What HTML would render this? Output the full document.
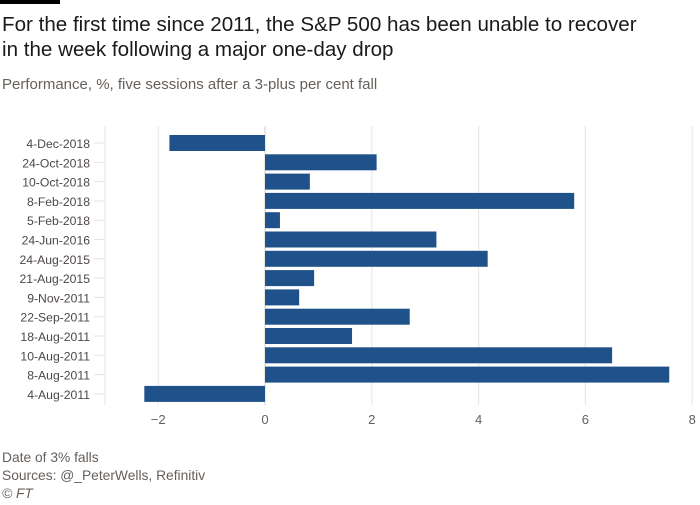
<!DOCTYPE html>
<html><head><meta charset="utf-8"><style>
body{margin:0;background:#fff;font-family:"Liberation Sans",sans-serif;}
</style></head><body>
<svg width="700" height="500">
<rect x="0" y="0" width="60" height="4" fill="#000"/>
<text x="2" y="31" font-size="20.6" fill="#1a1a1a">For the first time since 2011, the S&amp;P 500 has been unable to recover</text>
<text x="2" y="56" font-size="20.6" fill="#1a1a1a">in the week following a major one-day drop</text>
<text x="2" y="89" font-size="15" fill="#66605c">Performance, %, five sessions after a 3-plus per cent fall</text>
<g id="plot"></g>
<text x="2" y="462" font-size="13.8" fill="#66605c">Date of 3% falls</text>
<text x="2" y="480" font-size="13.8" fill="#66605c">Sources: @_PeterWells, Refinitiv</text>
<text x="2" y="498" font-size="13.8" font-style="italic" fill="#66605c">© FT</text>
</svg>
<script>
const categories=["4-Dec-2018","24-Oct-2018","10-Oct-2018","8-Feb-2018","5-Feb-2018","24-Jun-2016","24-Aug-2015","21-Aug-2015","9-Nov-2011","22-Sep-2011","18-Aug-2011","10-Aug-2011","8-Aug-2011","4-Aug-2011"];
const values=[-1.79,2.09,0.84,5.79,0.28,3.21,4.17,0.92,0.64,2.71,1.63,6.5,7.57,-2.26];
const ticks=[-2,0,2,4,6,8];
const NS="http://www.w3.org/2000/svg";
const g=document.getElementById('plot');
const x=v=>265+v*53.4;
const y=i=>143+i*19.3;
function el(t,a){const e=document.createElementNS(NS,t);for(const k in a)e.setAttribute(k,a[k]);g.appendChild(e);return e;}
const left=el('line',{x1:105,x2:105,y1:126,y2:405,stroke:'#e9e4df'});


ticks.forEach(t=>{
 const l=el('line',{x1:x(t),x2:x(t),y1:126,y2:405,stroke:t===0?'#d5d0cb':'#e9e4df'});
 
 
 const tx=el('text',{x:x(t),y:424,'font-size':13,fill:'#66605c','text-anchor':'middle'});
 tx.textContent=t<0?'\u2212'+Math.abs(t):String(t);
 
 
});
categories.forEach((c,i)=>{
 const v=values[i];
 const r=el('rect',{x:Math.min(x(0),x(v)),y:y(i)-8,width:Math.abs(x(v)-x(0)),height:16,fill:'#1f528a'});
 
 
 const tk=el('line',{x1:94,x2:104,y1:y(i),y2:y(i),stroke:'#e9e4df'});
 
 
 const t=el('text',{x:90,y:y(i)+5,'font-size':12.2,fill:'#4d4845','text-anchor':'end'});
 t.textContent=c;
 
 
});
</script>
</body></html>
